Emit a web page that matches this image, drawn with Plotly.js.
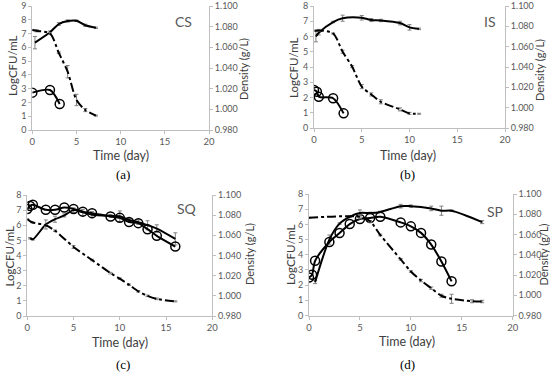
<!DOCTYPE html>
<html>
<head>
<meta charset="utf-8">
<script src="https://cdn.plot.ly/plotly-3.0.1.min.js"></script>
<style>html,body{margin:0;padding:0;background:#fff;}#chart{width:550px;height:375px;}</style>
</head>
<body>
<div id="chart"></div>
<script>
// ---------- DATA ----------
// Panel (a) CS
var A_circ_x = [0, 2, 3.1];
var A_circ_y = [2.71, 2.9, 1.89];
var A_solid_x = [0.3, 2, 3, 4, 5, 6, 7.2];
var A_solid_y = [6.34, 7.09, 7.69, 7.91, 7.93, 7.6, 7.42];
var A_solid_err = [0.45, 0.1, 0.1, 0.08, 0.05, 0.08, 0.05];
var A_dens_x = [0, 0.5, 2, 3, 4, 5, 6, 7.2];
var A_dens_y = [1.0768, 1.076, 1.0733, 1.0547, 1.0364, 1.0091, 0.9993, 0.9939];
var A_dens_err = [0.0005, 0.001, 0.001, 0.0008, 0.006, 0.0055, 0.0015, 0.0005];

// Panel (b) IS
var B_circ_x = [0, 0.3, 0.5, 2, 3.1];
var B_circ_y = [2.49, 2.38, 2.05, 1.95, 0.96];
var B_solid_x = [0.2, 0.5, 2, 3, 5, 6, 7, 9, 10, 11];
var B_solid_y = [6.0, 6.25, 6.95, 7.2, 7.23, 7.08, 7.05, 6.88, 6.6, 6.5];
var B_solid_err = [0.35, 0.15, 0.05, 0.2, 0.15, 0.1, 0.08, 0.12, 0.18, 0.05];
var B_dens_x = [0.1, 0.5, 2, 3, 4, 5, 6, 7, 9, 10, 11];
var B_dens_y = [1.0757, 1.076, 1.073, 1.055, 1.0403, 1.0207, 1.013, 1.0058, 0.9983, 0.9944, 0.994];
var B_dens_err = [0.0005, 0.001, 0.0005, 0.0015, 0.001, 0.002, 0.0015, 0.002, 0.0015, 0.001, 0.0005];

// Panel (c) SQ
var C_circ_x = [0, 0.3, 0.6, 2, 3, 4, 5, 6, 7, 9, 10, 11, 12, 13, 14, 16];
var C_circ_y = [7.07, 7.28, 7.35, 7.02, 7.02, 7.17, 7.08, 6.9, 6.8, 6.58, 6.49, 6.22, 6.14, 5.74, 5.3, 4.59];
var C_solid_x = [0.3, 0.6, 2, 3, 4, 5, 6, 7, 9, 10, 11, 12, 13, 14, 16];
var C_solid_y = [5.14, 5.07, 6.05, 6.4, 6.65, 7.0, 6.85, 6.7, 6.62, 6.6, 6.35, 6.2, 6.0, 5.78, 5.1];
var C_solid_err = [0.05, 0.05, 0.3, 0.2, 0.1, 0.15, 0.2, 0.2, 0.1, 0.35, 0.1, 0.15, 0.3, 0.25, 0.4];
var C_dens_x = [0, 0.5, 2, 3, 5, 7, 9, 10, 11, 12, 13, 14, 16];
var C_dens_y = [1.076, 1.073, 1.07, 1.0645, 1.0485, 1.0355, 1.0225, 1.017, 1.011, 1.0045, 1.0, 0.997, 0.9945];
var C_dens_err = [0.0005, 0.0005, 0.0008, 0.0008, 0.0015, 0.0008, 0.0008, 0.0008, 0.0008, 0.0008, 0.0008, 0.0008, 0.0005];

// Panel (d) SP
var D_circ_x = [0, 0.3, 0.6, 2, 3, 4, 5, 6, 7, 9, 10, 11, 12, 13, 14];
var D_circ_y = [2.5, 2.68, 3.6, 4.84, 5.43, 6.02, 6.35, 6.42, 6.5, 6.13, 5.87, 5.44, 4.67, 3.56, 2.25];
var D_solid_x = [0.6, 2, 3, 4, 5, 6, 7, 9, 10, 12, 13, 14, 17];
var D_solid_y = [2.2, 5.0, 6.05, 6.5, 6.75, 6.75, 6.82, 7.2, 7.2, 7.05, 6.9, 6.9, 6.15];
var D_solid_err = [0.1, 0.3, 0.05, 0.05, 0.2, 0.05, 0.05, 0.12, 0.08, 0.15, 0.3, 0.05, 0.1];
var D_dens_x = [0, 5, 6, 7, 9, 10, 11, 12, 13, 14, 16, 17];
var D_dens_y = [1.0765, 1.0775, 1.073, 1.0595, 1.0355, 1.0235, 1.0145, 1.007, 0.9995, 0.9965, 0.9941, 0.9938];
var D_dens_err = [0.0005, 0.002, 0.0008, 0.0008, 0.0008, 0.0008, 0.0012, 0.0012, 0.0015, 0.0045, 0.0015, 0.0012];

var panelNames = ['CS', 'IS', 'SQ', 'SP'];
var panelLetters = ['(a)', '(b)', '(c)', '(d)'];
var leftTicks9 = [0, 1, 2, 3, 4, 5, 6, 7, 8, 9];
var leftTicks8 = [0, 1, 2, 3, 4, 5, 6, 7, 8];
var rightTicks = [0.98, 1.00, 1.02, 1.04, 1.06, 1.08, 1.10];
var xTicks = [0, 5, 10, 15, 20];
var xTitle = 'Time (day)';
var yLeftTitle = 'LogCFU/mL';
var yRightTitle = 'Density (g/L)';

// ---------- BUILD ----------
var panels = [
  {cx: A_circ_x, cy: A_circ_y, sx: A_solid_x, sy: A_solid_y, se: A_solid_err, dx: A_dens_x, dy: A_dens_y, de: A_dens_err, lt: leftTicks9},
  {cx: B_circ_x, cy: B_circ_y, sx: B_solid_x, sy: B_solid_y, se: B_solid_err, dx: B_dens_x, dy: B_dens_y, de: B_dens_err, lt: leftTicks8},
  {cx: C_circ_x, cy: C_circ_y, sx: C_solid_x, sy: C_solid_y, se: C_solid_err, dx: C_dens_x, dy: C_dens_y, de: C_dens_err, lt: leftTicks8},
  {cx: D_circ_x, cy: D_circ_y, sx: D_solid_x, sy: D_solid_y, se: D_solid_err, dx: D_dens_x, dy: D_dens_y, de: D_dens_err, lt: leftTicks8}
];

var W = 550, H = 375;
// pixel boxes of plot areas [x0, x1, yTop, yBottom]
var boxes = [
  [32.3, 209, 6, 130],
  [314, 505, 6, 128],
  [27.3, 212.3, 195, 316],
  [309, 512.7, 194, 315.5]
];
// label positions in pixels: [leftTitleX, leftTitleY, rightTitleX, rightTitleY, timeX, timeY, letterX, letterY, nameX, nameY]
var labelPos = [
  [13, 66, 244, 69, 121, 155, 123, 174, 183, 21],
  [293, 68, 540, 70, 408, 155, 407, 174, 490, 21],
  [8.5, 256, 249, 254, 120, 342, 123, 364, 187, 208],
  [290, 255, 542.5, 255, 407, 341, 407, 364, 495, 211]
];

var FONT = 'Lato, "Open Sans", sans-serif';
var axisCol = '#bfbfbf';
var tickCol = '#595959';
var titleCol = '#404040';
var errStyle = function (arr) {
  return {type: 'data', array: arr, visible: true, color: '#808080', thickness: 1, width: 2};
};

var traces = [];
var layout = {
  width: W, height: H,
  margin: {l: 0, r: 0, t: 0, b: 0},
  paper_bgcolor: '#ffffff', plot_bgcolor: 'rgba(0,0,0,0)',
  showlegend: false,
  font: {family: FONT, color: tickCol},
  annotations: []
};

function ann(text, px, py, size, color, angle, family) {
  return {
    text: text, xref: 'paper', yref: 'paper', x: px / W, y: 1 - py / H,
    xanchor: 'center', yanchor: 'middle', showarrow: false, textangle: angle || 0,
    font: {size: size, color: color, family: family || FONT}
  };
}

panels.forEach(function (p, i) {
  var n = i + 1;
  var xa = n === 1 ? 'x' : 'x' + n;
  var yl = 'y' + (2 * i + 1 === 1 ? '' : (2 * i + 1));
  var yr = 'y' + (2 * i + 2);
  var b = boxes[i];
  var xdom = [b[0] / W, b[1] / W];
  var ydom = [1 - b[3] / H, 1 - b[2] / H];
  var lm = p.lt[p.lt.length - 1];

  traces.push({
    x: p.dx, y: p.dy, xaxis: xa, yaxis: yr, type: 'scatter', mode: 'lines',
    line: {color: '#000', width: 2, dash: 'dashdot', shape: 'spline', smoothing: 0.8},
    error_y: errStyle(p.de), hoverinfo: 'skip'
  });
  traces.push({
    x: p.sx, y: p.sy, xaxis: xa, yaxis: yl, type: 'scatter', mode: 'lines',
    line: {color: '#000', width: 2, shape: 'spline', smoothing: 0.8},
    error_y: errStyle(p.se), hoverinfo: 'skip'
  });
  traces.push({
    x: p.cx, y: p.cy, xaxis: xa, yaxis: yl, type: 'scatter', mode: 'lines+markers',
    line: {color: '#000', width: 2, shape: 'spline', smoothing: 0.8},
    marker: {symbol: 'circle-open', size: 9, color: '#000', line: {width: 1.5, color: '#000'}},
    hoverinfo: 'skip'
  });

  var xKey = n === 1 ? 'xaxis' : 'xaxis' + n;
  var ylKey = 'yaxis' + (2 * i + 1 === 1 ? '' : (2 * i + 1));
  var yrKey = 'yaxis' + (2 * i + 2);

  var common = {
    showline: true, linecolor: axisCol, linewidth: 1,
    ticks: 'outside', ticklen: 3, tickcolor: axisCol,
    showgrid: false, zeroline: false, automargin: false,
    ticklabeloverflow: 'allow'
  };

  layout[xKey] = Object.assign({}, common, {
    domain: xdom, anchor: yl, range: [0, 20], tickmode: 'array', tickvals: xTicks,
    tickfont: {size: 9.5, color: tickCol, family: FONT}
  });
  layout[ylKey] = Object.assign({}, common, {
    domain: ydom, anchor: xa, range: [0, lm * 1.00001], tickmode: 'array', tickvals: p.lt,
    tickfont: {size: 9, color: tickCol, family: FONT}
  });
  layout[yrKey] = Object.assign({}, common, {
    overlaying: yl, anchor: xa, side: 'right', range: [0.98, 1.100001],
    tickmode: 'array', tickvals: rightTicks, tickformat: '.3f',
    tickfont: {size: 9, color: tickCol, family: FONT}
  });

  var L = labelPos[i];
  layout.annotations.push(ann(yLeftTitle, L[0], L[1], 11.5, titleCol, -90));
  layout.annotations.push(ann(yRightTitle, L[2], L[3], 11, titleCol, -90));
  layout.annotations.push(ann(xTitle, L[4], L[5], 12.5, titleCol, 0));
  layout.annotations.push(ann(panelLetters[i], L[6], L[7], 13, '#000', 0, '"Liberation Serif", "DejaVu Serif", serif'));
  layout.annotations.push(ann(panelNames[i], L[8], L[9], 14, '#595959', 0));
});

Plotly.newPlot('chart', traces, layout, {staticPlot: true, displayModeBar: false});
</script>
</body>
</html>
